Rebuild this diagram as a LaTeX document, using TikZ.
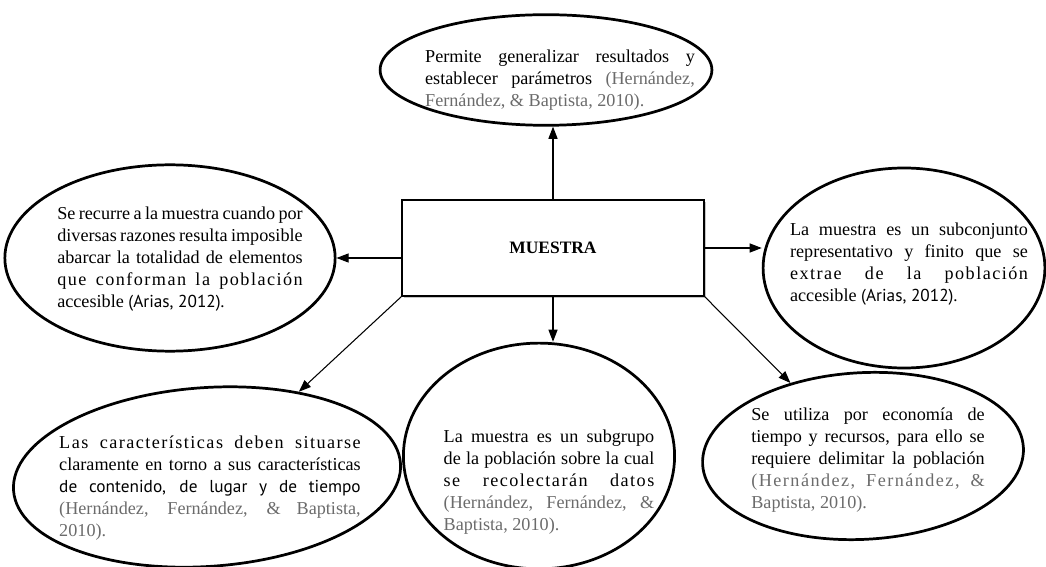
\documentclass[tikz,border=0pt]{standalone}
\usepackage{fontspec}
\setmainfont{Liberation Serif}
\newfontfamily\sansmyr[Scale=0.95]{PT Sans}
\newfontfamily\espaciada[LetterSpace=8]{Liberation Serif}
\usetikzlibrary{arrows.meta,shapes.geometric,shadows}
\definecolor{gris}{gray}{0.42}
\newcommand{\fuente}[1]{\textcolor{gris}{#1}}

\tikzset{
  globo/.style={ellipse, draw, line width=1.8pt, inner sep=0pt},
  texto/.style={align=justify, inner sep=0pt, font=\fontsize{12pt}{14.5pt}\selectfont},
  flecha/.style={-{Triangle[length=8pt,width=6pt]}, line width=0.7pt},
}

\begin{document}
\begin{tikzpicture}[x=0.66pt, y=-0.66pt]
  \useasboundingbox (0,0) rectangle (1046,567);

  % Central box
  \node[draw, line width=1.4pt, fill=white, drop shadow={shadow xshift=1.2pt, shadow yshift=-1.2pt, opacity=0.45},
        minimum width=199pt, minimum height=63pt, font=\fontsize{11.5pt}{14pt}\selectfont\bfseries]
        (muestra) at (553,248) {MUESTRA};

  % Ellipses
  \node[globo, minimum width=219pt, minimum height=73pt] (globoArriba) at (546,70) {};
  \node[globo, minimum width=218pt, minimum height=123pt] (globoIzq) at (170,258) {};
  \node[globo, minimum width=186pt, minimum height=132pt] (globoDer) at (904,268) {};
  \node[globo, minimum width=256pt, minimum height=118pt, rotate=4] (globoAbIzq) at (207,477) {};
  \node[globo, minimum width=179pt, minimum height=149pt] (globoCentro) at (539,456) {};
  \node[globo, minimum width=212pt, minimum height=110pt, rotate=3] (globoAbDer) at (863,456) {};

  % Texts
  \node[texto, text width=178pt] (txtArriba) at (560,80)
    {Permite generalizar resultados y\linebreak
     establecer parámetros \fuente{(Hernández,}\linebreak
     \fuente{Fernández, \& Baptista, 2010).}};
  \node[texto, text width=162pt] (txtIzq) at (180,259)
    {Se recurre a la muestra cuando por\linebreak
     diversas razones resulta imposible\linebreak
     abarcar la totalidad de elementos\linebreak
     {\espaciada que conforman la población}\linebreak
     accesible {\sansmyr (Arias, 2012).}};
  \node[texto, text width=157pt] (txtDer) at (909,264)
    {La muestra es un subconjunto\linebreak
     representativo y finito que se\linebreak
     {\espaciada extrae de la población}\linebreak
     accesible {\sansmyr(Arias, 2012).}};
  \node[texto, text width=199pt] (txtAbIzq) at (210,488)
    {{\espaciada Las características deben situarse}\linebreak
     claramente en torno a sus características\linebreak
     {\sansmyr de contenido, de lugar y de tiempo}\linebreak
     \fuente{(Hernández, Fernández, \& Baptista,}\linebreak
     \fuente{2010).}};
  \node[texto, text width=139pt] (txtCentro) at (549,482)
    {La muestra es un subgrupo\linebreak
     de la población sobre la cual\linebreak
     {\espaciada se recolectarán datos}\linebreak
     \fuente{(Hernández, Fernández, \&}\linebreak
     \fuente{Baptista, 2010).}};
  \node[texto, text width=154pt] (txtAbDer) at (868,460)
    {Se utiliza por economía de\linebreak
     tiempo y recursos, para ello se\linebreak
     requiere delimitar la población\linebreak
     \fuente{\espaciada (Hernández, Fernández, \&}\linebreak
     \fuente{Baptista, 2010).}};

  % Arrows
  \draw[flecha] (muestra.north) -- (muestra.north |- globoArriba.south);
  \draw[flecha] (muestra.west |- globoIzq.east) -- (globoIzq.east);
  \draw[flecha] (muestra.east) -- (muestra.east -| globoDer.west);
  \draw[flecha] (muestra.south) -- (muestra.south |- globoCentro.north);
  \foreach \esq/\destino in {south west/globoAbIzq, south east/globoAbDer}
    \draw[flecha] (muestra.\esq) -- (\destino);
\end{tikzpicture}
\end{document}
